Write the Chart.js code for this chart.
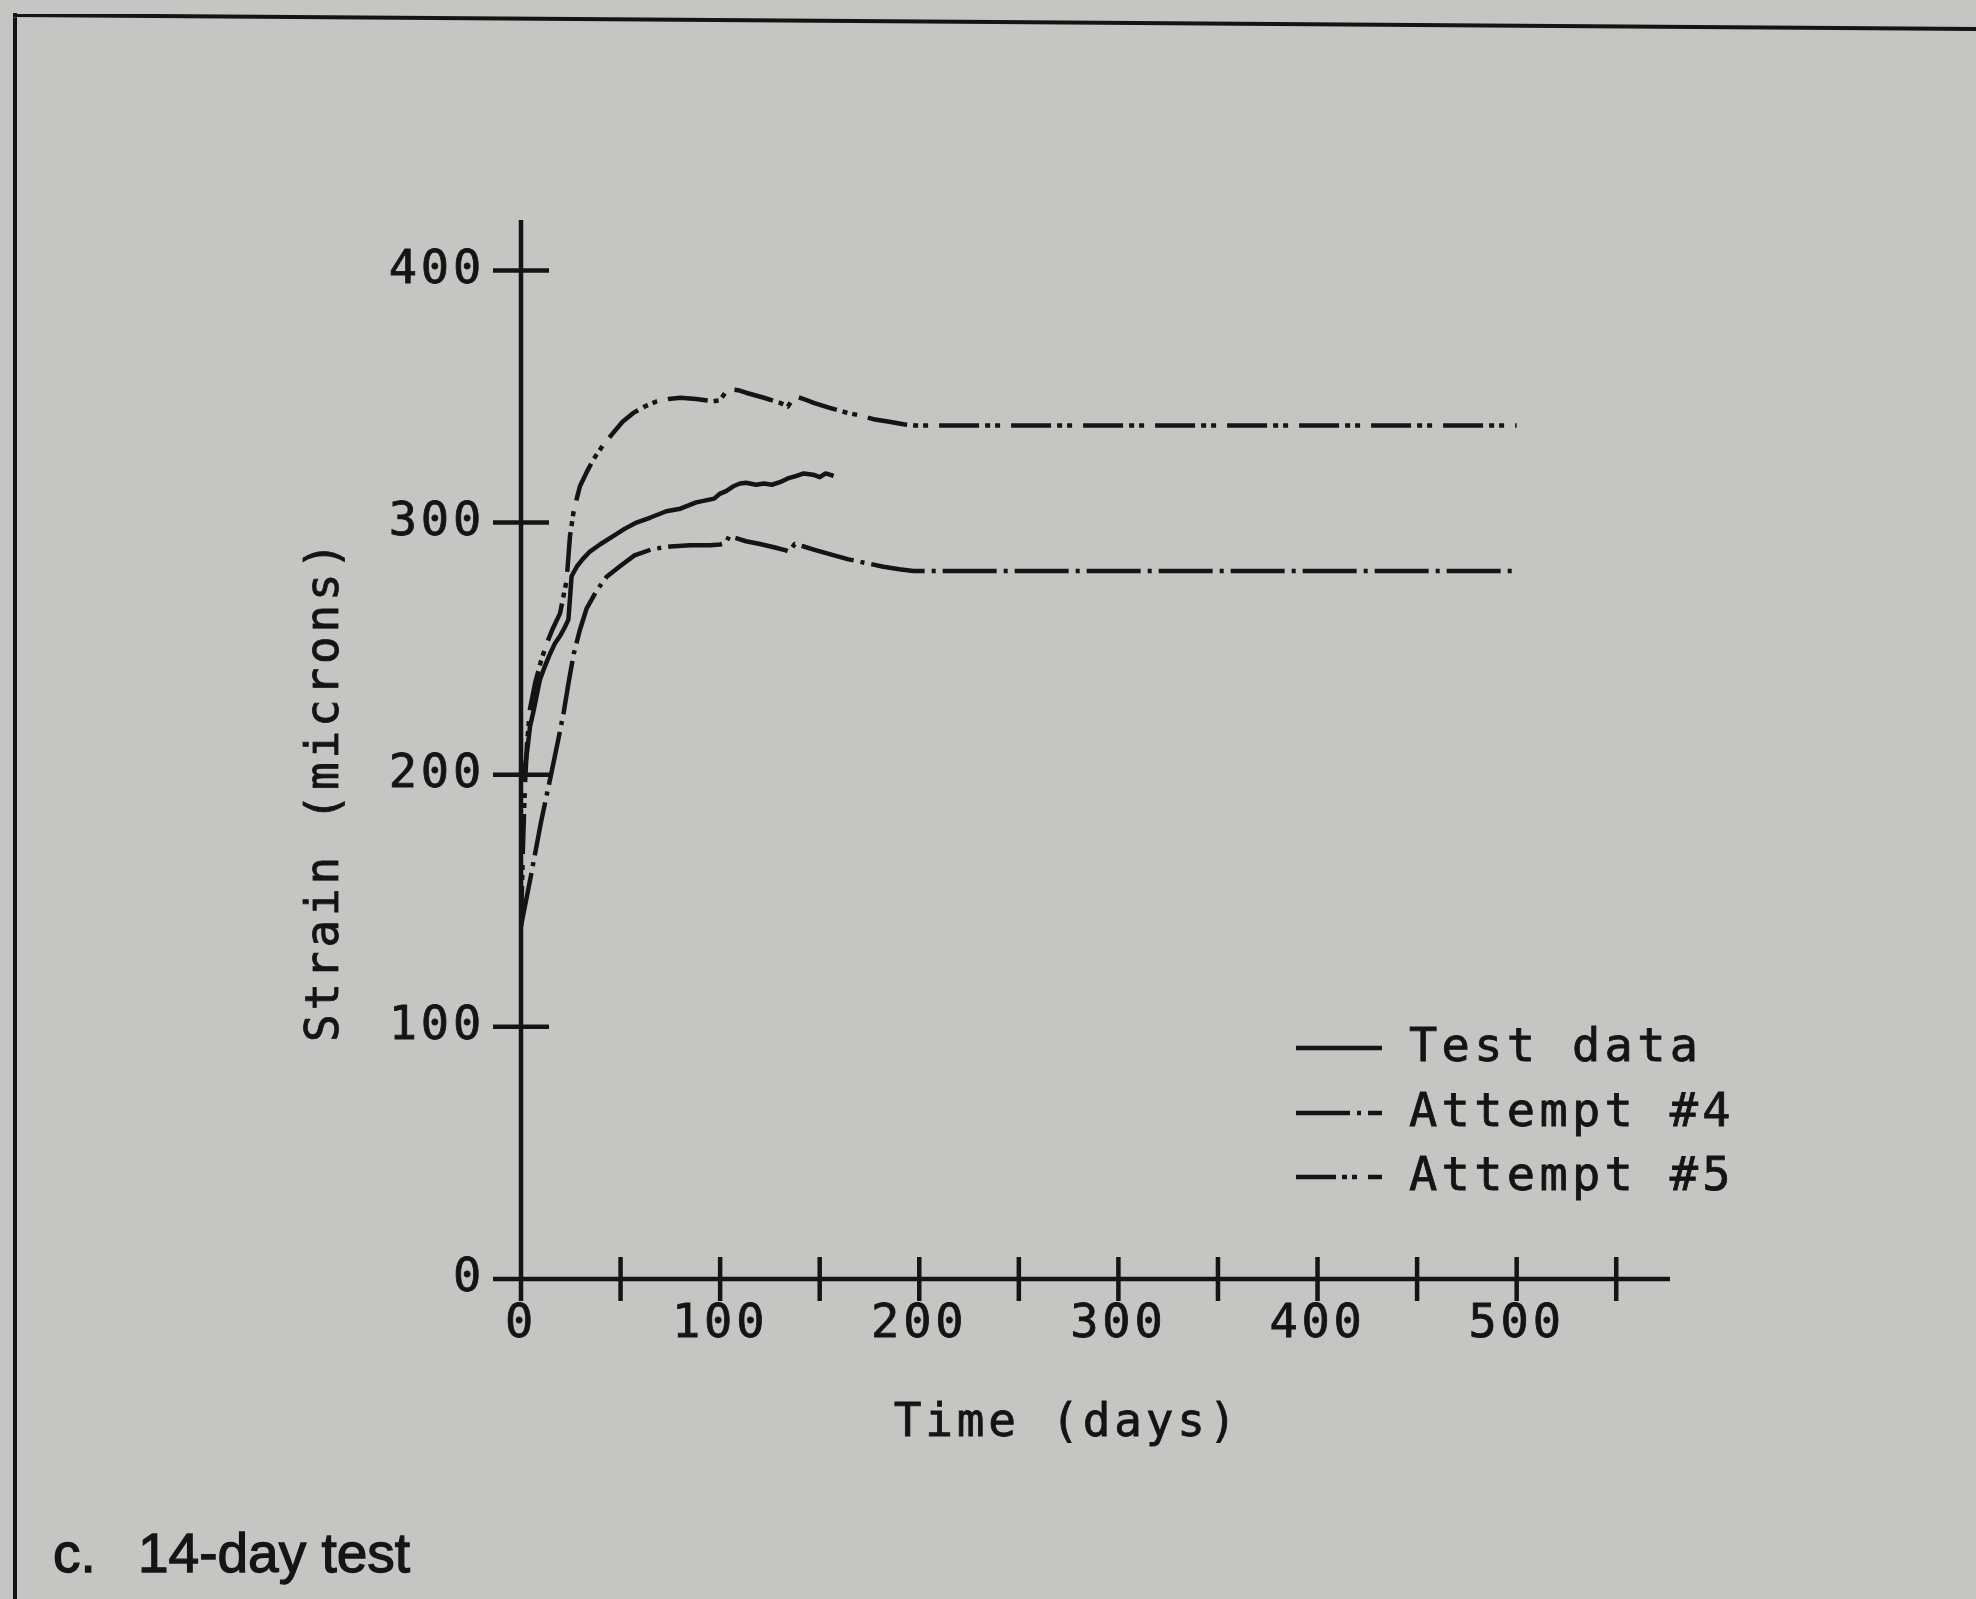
<!DOCTYPE html>
<html><head><meta charset="utf-8">
<script src="https://cdn.jsdelivr.net/npm/chart.js@4.4.1/dist/chart.umd.min.js"></script>
<style>html,body{margin:0;padding:0;background:#c5c5c3;}canvas{display:block;}</style>
</head><body>
<canvas id="c" width="1976" height="1599"></canvas>
<script>
// ---------- data ----------
const seriesNames = ['Test data', 'Attempt #4', 'Attempt #5'];

const testDays   = [0, 2, 3.5, 4.5, 6.5, 9.5, 12, 14.6, 17, 19.6, 22, 23.8, 24.6, 25.4, 28, 31, 34.6, 40, 46.3, 52, 58, 65, 73, 80, 88, 94, 97, 100, 103, 106.6, 110, 113, 118, 122, 126, 130, 134, 138, 142, 146.7, 150, 153, 157];
const testStrain = [200, 203, 212, 219, 226, 237.7, 243, 248, 252, 255, 258.5, 261.5, 270, 278.7, 282.5, 285.5, 288.5, 291.5, 294.6, 297.5, 300, 302, 304.5, 305.5, 308, 309, 309.5, 311.5, 312.5, 314.4, 315.5, 315.8, 315, 315.5, 315, 316, 317.5, 318.4, 319.5, 319, 318, 319.5, 318.5];

const a4Days   = [0, 5, 10, 15.2, 19, 21.5, 24, 26.5, 29.6, 33, 38, 43, 49.7, 57, 66, 75, 85, 95, 100, 103, 104.5, 108, 113, 120, 127, 133, 134.5, 137.5, 142, 147, 155, 164, 173, 182, 190, 197, 250, 300, 350, 400, 450, 500];
const a4Strain = [140, 160, 181, 200.5, 215, 225, 237, 248, 257.5, 266, 273, 278.5, 282.7, 287, 289.5, 290.5, 291, 291, 291.3, 292, 294.6, 293.8, 292.6, 291.5, 290.2, 289, 288.5, 291.5, 290.5, 289.3, 287.5, 285.5, 284, 282.5, 281.5, 280.8, 280.8, 280.8, 280.8, 280.8, 280.8, 280.8];

const a5Days   = [0, 1, 2, 3, 4.5, 7, 10, 12.9, 16, 19.6, 22.9, 24.6, 26.3, 28, 29.6, 33, 36.3, 41, 46.3, 51, 56.4, 62, 68, 74, 80, 88, 96.5, 100, 102.5, 105, 109, 113, 122, 130, 134, 136, 138.4, 142, 147, 155, 164, 170, 177, 185, 192, 198, 250, 300, 350, 400, 450, 500];
const a5Strain = [140, 172, 196, 212, 226, 236, 245, 252, 258, 264, 277, 294.6, 303.8, 309.5, 314.4, 320, 325, 330.5, 335.6, 340, 343.5, 346, 348, 349, 349.5, 349, 348.1, 348.5, 351.5, 352.8, 352.5, 351.5, 349.5, 347.5, 346, 348.5, 350, 349, 347.5, 345.5, 343.5, 342.5, 341, 340, 339, 338.5, 338.5, 338.5, 338.5, 338.5, 338.5, 338.5];

const xTickStep = 50;      // minor + major ticks
const xLabelStep = 100;    // labelled ticks
const yTickStep = 100;
const xMax = 577, yMax = 420;
const xTitle = 'Time (days)';
const yTitle = 'Strain (microns)';
const captionTag = 'c.';
const captionText = '14-day test';

// ---------- styling ----------
const INK = '#141414';
const PAPER = '#c5c5c3';
const MONO = '"DejaVu Sans Mono", "Liberation Mono", monospace';
const SANS = '"Liberation Sans", Arial, sans-serif';
const SPACING = '3.8px';
const dashes = [[], [54, 7, 4, 7], [40, 6, 5, 5, 5, 11]];

function pts(xs, ys) { return xs.map((x, i) => ({x: x, y: ys[i]})); }

const paperPlugin = {
  id: 'paper',
  beforeDraw(chart) {
    const c = chart.ctx;
    c.save();
    c.fillStyle = PAPER;
    c.fillRect(0, 0, chart.width, chart.height);
    c.strokeStyle = INK; c.lineWidth = 4; c.lineCap = 'butt';
    c.beginPath();
    c.moveTo(13, 15); c.lineTo(1976, 29);
    c.moveTo(15, 13); c.lineTo(15, 1599);
    c.stroke();
    c.restore();
    c.letterSpacing = SPACING;
  }
};

const axesPlugin = {
  id: 'crossAxes',
  afterDatasetsDraw(chart) {
    const c = chart.ctx, xs = chart.scales.x, ys = chart.scales.y;
    const x0 = xs.getPixelForValue(0), y0 = ys.getPixelForValue(0);
    c.save();
    c.strokeStyle = INK; c.lineWidth = 4.5; c.lineCap = 'butt'; c.setLineDash([]);
    c.beginPath();
    c.moveTo(x0, ys.getPixelForValue(yMax)); c.lineTo(x0, y0);
    c.moveTo(x0, y0); c.lineTo(xs.getPixelForValue(xMax), y0);
    xs.ticks.forEach(t => { const p = xs.getPixelForValue(t.value); c.moveTo(p, y0 - 22); c.lineTo(p, y0 + 22); });
    ys.ticks.forEach(t => { const p = ys.getPixelForValue(t.value); c.moveTo(x0 - 28, p); c.lineTo(x0 + 28, p); });
    c.stroke();
    c.restore();
  }
};

const legendPlugin = {
  id: 'plotLegend',
  afterDraw(chart) {
    const c = chart.ctx;
    const rows = [1048, 1113, 1177];
    c.save();
    chart.data.datasets.forEach((ds, i) => {
      c.strokeStyle = INK; c.lineWidth = 4.5; c.setLineDash(ds.borderDash || []);
      c.beginPath(); c.moveTo(1296, rows[i]); c.lineTo(1382, rows[i]); c.stroke();
      c.setLineDash([]);
      c.fillStyle = INK; c.font = '47px ' + MONO; c.letterSpacing = '4.3px';
      c.textAlign = 'left'; c.textBaseline = 'middle';
      c.lineWidth = 0.8; c.strokeStyle = INK;
      c.fillText(ds.label, 1409, rows[i] + 1);
      c.strokeText(ds.label, 1409, rows[i] + 1);
    });
    c.restore();
  }
};

const textPlugin = {
  id: 'titles',
  afterDraw(chart) {
    const c = chart.ctx;
    c.save();
    c.fillStyle = INK; c.strokeStyle = INK; c.lineWidth = 0.8;
    c.font = '46px ' + MONO; c.letterSpacing = SPACING;
    c.textAlign = 'center'; c.textBaseline = 'middle';
    c.fillText(xTitle, 1067, 1424); c.strokeText(xTitle, 1067, 1424);
    c.save(); c.translate(326, 790); c.rotate(-Math.PI / 2);
    c.fillText(yTitle, 0, 0); c.strokeText(yTitle, 0, 0); c.restore();
    c.letterSpacing = '0px';
    c.font = '55px ' + SANS; c.textAlign = 'left'; c.textBaseline = 'alphabetic';
    c.fillStyle = '#151515'; c.strokeStyle = '#151515'; c.lineWidth = 1.3;
    c.fillText(captionTag, 53, 1572); c.strokeText(captionTag, 53, 1572);
    c.fillText(captionText, 138, 1572); c.strokeText(captionText, 138, 1572);
    c.restore();
  }
};

new Chart(document.getElementById('c').getContext('2d'), {
  type: 'line',
  data: {
    datasets: [
      {label: seriesNames[0], data: pts(testDays, testStrain), borderDash: dashes[0]},
      {label: seriesNames[1], data: pts(a4Days, a4Strain), borderDash: dashes[1]},
      {label: seriesNames[2], data: pts(a5Days, a5Strain), borderDash: dashes[2]}
    ].map(d => Object.assign(d, {borderColor: INK, borderWidth: 4.5, pointRadius: 0, tension: 0, fill: false, borderCapStyle: 'butt', borderJoinStyle: 'round'}))
  },
  options: {
    responsive: false, animation: false, devicePixelRatio: 1,
    layout: {padding: {left: 0, top: 220, right: 306, bottom: 220}},
    plugins: {legend: {display: false}, tooltip: {enabled: false}, title: {display: false}},
    scales: {
      x: {
        type: 'linear', position: 'bottom', min: 0, max: xMax,
        grid: {display: false, drawTicks: false}, border: {display: false},
        ticks: {stepSize: xTickStep, includeBounds: false, autoSkip: false, maxRotation: 0, minRotation: 0,
                padding: 18, color: INK, textStrokeColor: INK, textStrokeWidth: 0.8,
                font: {family: MONO, size: 47},
                callback: v => (v % xLabelStep === 0 ? String(v) : '')},
        afterFit: s => { s.height = 100; }
      },
      y: {
        type: 'linear', position: 'left', min: 0, max: yMax,
        grid: {display: false, drawTicks: false}, border: {display: false},
        ticks: {stepSize: yTickStep, includeBounds: false, autoSkip: false, padding: 36, color: INK,
                textStrokeColor: INK, textStrokeWidth: 0.8,
                font: {family: MONO, size: 47}},
        afterFit: s => { s.width = 521; }
      }
    }
  },
  plugins: [paperPlugin, axesPlugin, legendPlugin, textPlugin]
});
</script>
</body></html>
